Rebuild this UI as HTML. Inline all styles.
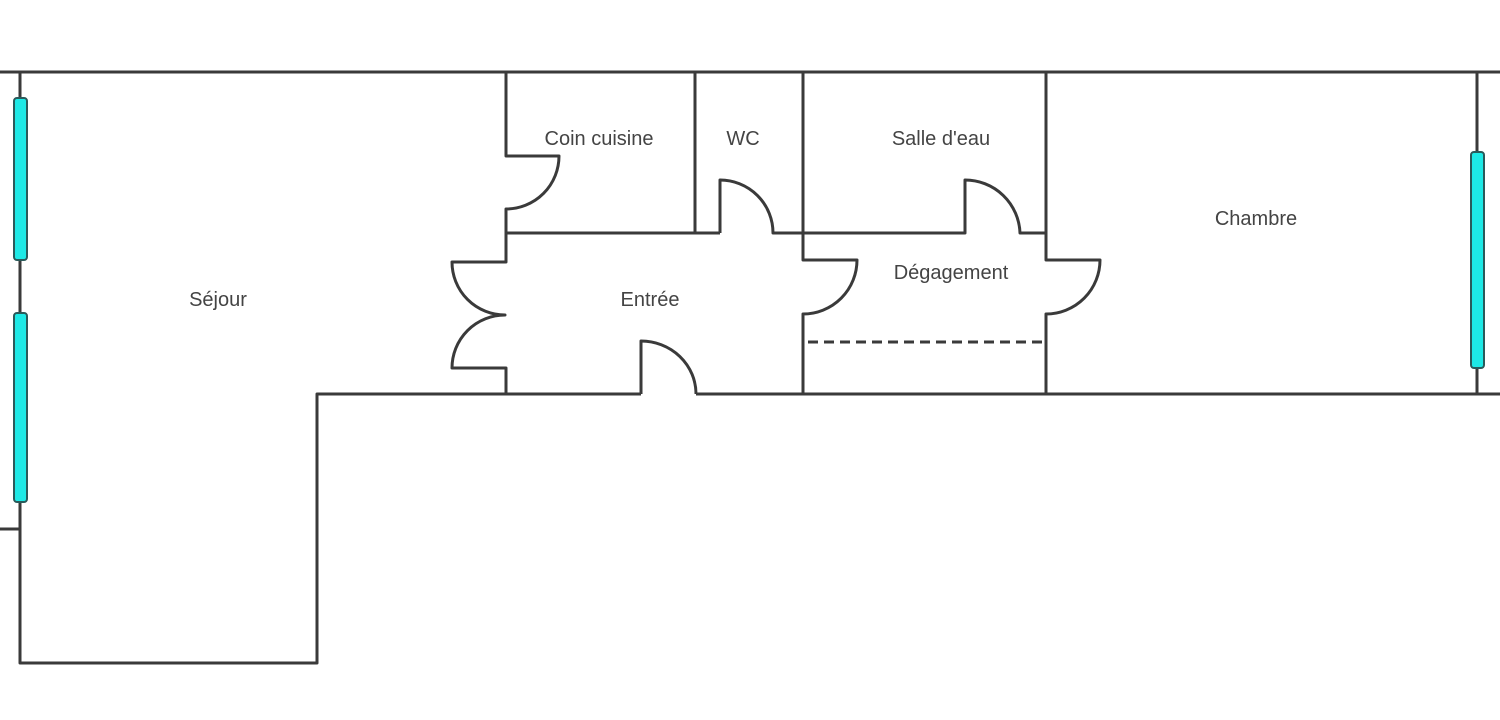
<!DOCTYPE html>
<html><head><meta charset="utf-8"><style>
html,body{margin:0;padding:0;background:#fff;width:1500px;height:720px;overflow:hidden}
text{font-family:"Liberation Sans",sans-serif;font-size:20px;fill:#444;text-anchor:middle}
</style></head><body>
<svg width="1500" height="720" viewBox="0 0 1500 720" xmlns="http://www.w3.org/2000/svg">
<g fill="none" stroke="#3a3a3a" stroke-width="3" stroke-linejoin="round">
<line x1="0" y1="72" x2="1500" y2="72"/>
<polyline points="20,72 20,663 317,663 317,394 641,394"/>
<line x1="696" y1="394" x2="1500" y2="394"/>
<line x1="0" y1="529" x2="20" y2="529"/>
<line x1="1477" y1="72" x2="1477" y2="394"/>
<path d="M506,72 L506,156 L559,156 A53,53 0 0 1 506,209 L506,262 L452,262 A53,53 0 0 0 505,315 A53,53 0 0 0 452,368 L506,368 L506,394"/>
<line x1="506" y1="233" x2="720" y2="233"/>
<line x1="695" y1="72" x2="695" y2="233"/>
<path d="M720,233 L720,180 A53,53 0 0 1 773,233 L965,233 L965,180 A55,55 0 0 1 1020,233 L1046,233"/>
<path d="M803,72 L803,260 L857,260 A54,54 0 0 1 803,314 L803,394"/>
<path d="M1046,72 L1046,260 L1100,260 A54,54 0 0 1 1046,314 L1046,394"/>
<path d="M641,394 L641,341 A55,53 0 0 1 696,394"/>
<line x1="808" y1="342" x2="1046" y2="342" stroke-dasharray="10,6"/>
</g>
<g fill="#1de9e6" stroke="#2a5a5a" stroke-width="2">
<rect x="14" y="98" width="13" height="162" rx="3"/>
<rect x="14" y="313" width="13" height="189" rx="3"/>
<rect x="1471" y="152" width="13" height="216" rx="3"/>
</g>
<text x="218" y="306">Séjour</text>
<text x="599" y="145">Coin cuisine</text>
<text x="743" y="145">WC</text>
<text x="941" y="145">Salle d'eau</text>
<text x="1256" y="225">Chambre</text>
<text x="951" y="279">Dégagement</text>
<text x="650" y="306">Entrée</text>
</svg>
</body></html>
